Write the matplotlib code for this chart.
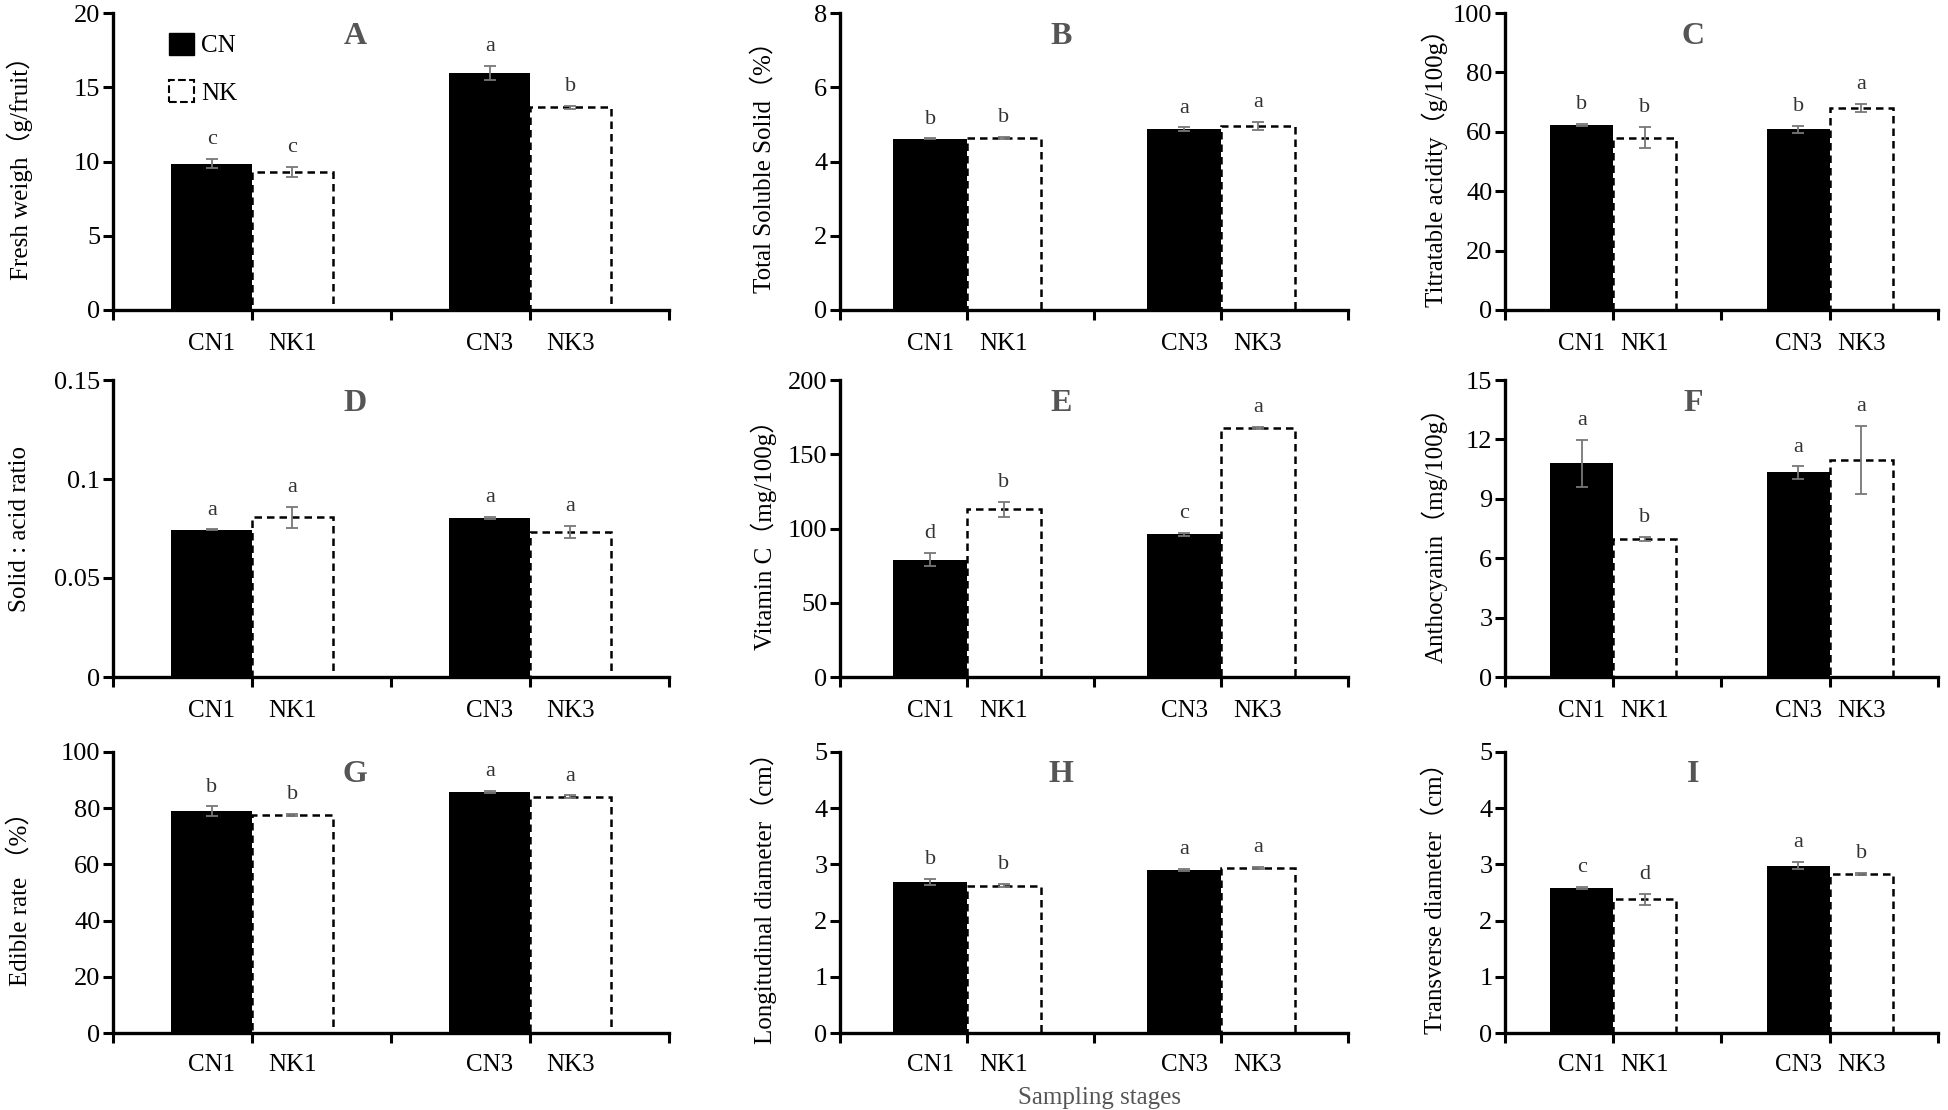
import matplotlib
matplotlib.use("Agg")
import matplotlib.pyplot as plt
from matplotlib.patches import Patch

plt.rcParams['font.family'] = ['Liberation Serif', 'Noto Sans CJK SC']

# 樣本組別
samples = ["CN1", "NK1", "CN3", "NK3"]

# 各指標平均值、誤差與顯著性字母
fresh_weight = [9.86, 9.30, 15.96, 13.65]
fresh_weight_err = [0.32, 0.34, 0.48, 0.12]
fresh_weight_sig = ["c", "c", "a", "b"]

tss = [4.61, 4.64, 4.87, 4.96]
tss_err = [0.01, 0.03, 0.05, 0.11]
tss_sig = ["b", "b", "a", "a"]

acidity = [62.2, 58.0, 60.8, 67.9]
acidity_err = [0.4, 3.6, 1.2, 1.4]
acidity_sig = ["b", "b", "b", "a"]

ratio = [0.0743, 0.0807, 0.0803, 0.0733]
ratio_err = [0.0003, 0.0052, 0.0005, 0.003]
ratio_sig = ["a", "a", "a", "a"]

vitc = [79.1, 112.9, 96.2, 167.8]
vitc_err = [4.3, 4.9, 1.0, 0.5]
vitc_sig = ["d", "b", "c", "a"]

antho = [10.80, 6.99, 10.33, 10.97]
antho_err = [1.18, 0.10, 0.31, 1.73]
antho_sig = ["a", "b", "a", "a"]

edible = [79.0, 77.6, 85.7, 84.1]
edible_err = [1.7, 0.3, 0.4, 0.5]
edible_sig = ["b", "b", "a", "a"]

longd = [2.69, 2.62, 2.90, 2.94]
longd_err = [0.05, 0.03, 0.02, 0.02]
longd_sig = ["b", "b", "a", "a"]

transd = [2.58, 2.38, 2.98, 2.835]
transd_err = [0.02, 0.10, 0.065, 0.02]
transd_sig = ["c", "d", "a", "b"]

# 每個子圖：代號、y 軸標籤、y 刻度、刻度文字、資料
panels = [
    ("A", "Fresh weigh（g/fruit）", [0, 5, 10, 15, 20], None, fresh_weight, fresh_weight_err, fresh_weight_sig),
    ("B", "Total Soluble Solid（%）", [0, 2, 4, 6, 8], None, tss, tss_err, tss_sig),
    ("C", "Titratable acidity（g/100g）", [0, 20, 40, 60, 80, 100], None, acidity, acidity_err, acidity_sig),
    ("D", "Solid : acid ratio", [0, 0.05, 0.1, 0.15], ["0", "0.05", "0.1", "0.15"], ratio, ratio_err, ratio_sig),
    ("E", "Vitamin C（mg/100g）", [0, 50, 100, 150, 200], None, vitc, vitc_err, vitc_sig),
    ("F", "Anthocyanin（mg/100g）", [0, 3, 6, 9, 12, 15], None, antho, antho_err, antho_sig),
    ("G", "Edible rate （%）", [0, 20, 40, 60, 80, 100], None, edible, edible_err, edible_sig),
    ("H", "Longitudinal diameter（cm）", [0, 1, 2, 3, 4, 5], None, longd, longd_err, longd_sig),
    ("I", "Transverse diameter（cm）", [0, 1, 2, 3, 4, 5], None, transd, transd_err, transd_sig),
]

W, H = 1949, 1110
col_pos = [(113, 556), (840, 508), (1505, 433)]   # 左邊界、寬度 (px)
row_pos = [(13, 310), (380, 677), (752, 1033)]    # 上邊界、零線 (px)
ylab_x = [20, 764, 1435]

fig = plt.figure(figsize=(W / 100, H / 100), dpi=100)

bw = 0.29
for i, (letter, ylabel, yticks, ytl, vals, errs, sigs) in enumerate(panels):
    r, c = divmod(i, 3)
    left, width = col_pos[c]
    top, zero = row_pos[r]
    ax = fig.add_axes([left / W, 1 - zero / H, width / W, (zero - top) / H])

    xs = [1 - bw / 2, 1 + bw / 2, 2 - bw / 2, 2 + bw / 2]
    for j, (x, v, e) in enumerate(zip(xs, vals, errs)):
        if j % 2 == 0:
            ax.bar(x, v, width=bw, color="black", edgecolor="black", linewidth=0, zorder=2)
        else:
            ax.bar(x, v, width=bw, color="white", edgecolor="black", linestyle=(0, (3, 2)),
                   linewidth=1.8, zorder=1)
        ax.errorbar(x, v, yerr=e, fmt="none", ecolor="#777777", elinewidth=1.3,
                    capsize=4, capthick=1.3, zorder=3)
        ax.annotate(sigs[j], (x, v + e), xytext=(0, 7), textcoords="offset points",
                    ha="center", va="bottom", fontsize=16, color="#333333")
        ax.text(x, -0.115, samples[j], transform=ax.get_xaxis_transform(),
                ha="center", va="center", fontsize=18)

    ax.set_xlim(0.5, 2.5)
    ax.set_ylim(yticks[0], yticks[-1])
    ax.set_xticks([0.5, 1, 1.5, 2, 2.5])
    ax.set_xticklabels([])
    ax.set_yticks(yticks)
    if ytl:
        ax.set_yticklabels(ytl)
    ax.tick_params(axis="both", direction="out", width=2.2, length=7, labelsize=19, pad=2)
    for s in ["top", "right"]:
        ax.spines[s].set_visible(False)
    for s in ["left", "bottom"]:
        ax.spines[s].set_linewidth(2.4)

    ax.text(1.37, 0.92, letter, transform=ax.get_xaxis_transform(), ha="center", va="center",
            fontsize=23, fontweight="bold", color="#555555")

    fig.text(ylab_x[c] / W, 1 - (top + zero) / 2 / H, ylabel, rotation=90,
             ha="center", va="center", fontsize=18)

    if letter == "A":
        handles = [Patch(facecolor="black", edgecolor="black"),
                   Patch(facecolor="white", edgecolor="black", linestyle="--", linewidth=1.5)]
        ax.legend(handles, ["CN", "NK"], loc="upper left", bbox_to_anchor=(0.06, 1.01),
                  frameon=False, fontsize=18, handlelength=1.0, handleheight=1.0,
                  handletextpad=0.3, labelspacing=0.9)

fig.text(1100 / W, 1 - 1098 / H, "Sampling stages", ha="center", va="center",
         fontsize=18, color="#555555")

plt.savefig("out.png", dpi=100)
